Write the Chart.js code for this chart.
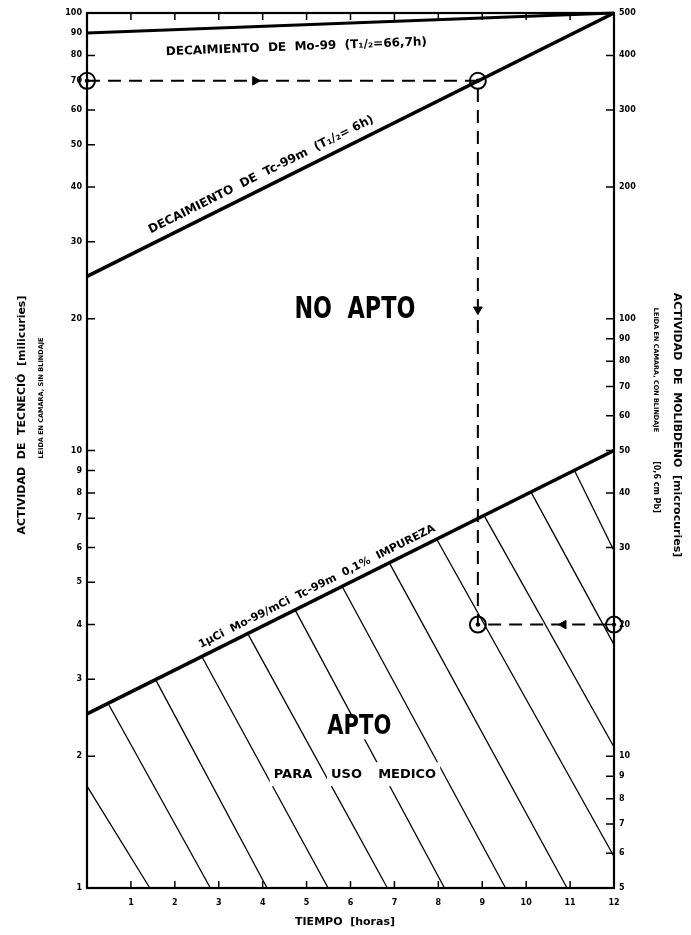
<!DOCTYPE html>
<html>
<head>
<meta charset="utf-8">
<script src="https://cdn.jsdelivr.net/npm/chart.js@4.4.0/dist/chart.umd.min.js"></script>
<style>
body { margin: 0; background: #fff; }
canvas { display: block; }
</style>
</head>
<body>
<canvas id="chart" width="691" height="935"></canvas>
<script>
// tiempo en horas, actividad de Tc en mCi (escala izquierda)
const hours = [0, 12];
const moDecay = [90, 100];
const tcDecay = [25, 100];
const impurity = [2.5, 10];

// recorrido del ejemplo (lineas de trazos)
const guideX = [0, 8.9, 8.9, 12];
const guideY = [70, 70, 4, 4];
const arrowX = [3.83, 8.9, 10.85];
const arrowY = [70, 21, 4];

// rayado de la zona APTO (extremos)
const hatchTopX = [0, 0.5, 1.58, 2.63, 3.67, 4.75, 5.82, 6.9, 7.97, 9.05, 10.12, 11.1];
const hatchTopY = [1.71, 2.62, 2.97, 3.36, 3.8, 4.3, 4.87, 5.5, 6.25, 7.08, 8.0, 9.0];
const hatchBotX = [1.43, 2.81, 4.1, 5.49, 6.84, 8.14, 9.53, 10.93, 12, 12, 12, 12];
const hatchBotY = [1, 1, 1, 1, 1, 1, 1, 1, 1.18, 2.1, 3.6, 5.9];

const leftTicks = [1, 2, 3, 4, 5, 6, 7, 8, 9, 10, 20, 30, 40, 50, 60, 70, 80, 90, 100];
const rightTicks = [5, 6, 7, 8, 9, 10, 20, 30, 40, 50, 60, 70, 80, 90, 100, 200, 300, 400, 500];
const xTicks = [1, 2, 3, 4, 5, 6, 7, 8, 9, 10, 11, 12];

const FONT = "'DejaVu Sans', 'Liberation Sans', sans-serif";

const pts = (xs, ys) => xs.map((x, i) => ({x: x, y: ys[i]}));

const datasets = [];

datasets.push({data: pts(hours, moDecay), showLine: true, borderColor: '#000', borderWidth: 3, pointRadius: 0, clip: false});
datasets.push({data: pts(hours, tcDecay), showLine: true, borderColor: '#000', borderWidth: 3.5, pointRadius: 0, clip: false});
datasets.push({data: pts(hours, impurity), showLine: true, borderColor: '#000', borderWidth: 3.5, pointRadius: 0, clip: false});
datasets.push({data: pts(guideX, guideY), showLine: true, borderColor: '#000', borderWidth: 2, borderDash: [13, 8], pointRadius: 0, clip: false});
// circulos
datasets.push({data: pts(guideX, guideY), showLine: false, pointRadius: 8, pointBorderWidth: 2,
    pointBorderColor: '#000', pointBackgroundColor: 'rgba(0,0,0,0)', clip: false});
datasets.push({data: pts(guideX, guideY), showLine: false, pointRadius: 2.2, pointBorderWidth: 0,
    pointBackgroundColor: '#000', clip: false});
// flechas
datasets.push({data: pts(arrowX, arrowY), showLine: false, pointStyle: 'triangle', pointRadius: 5,
    pointRotation: [90, 180, 270], pointBackgroundColor: '#000', pointBorderColor: '#000', clip: false});

for (let i = 0; i < hatchTopX.length; i++) {
    datasets.push({
        data: [{x: hatchTopX[i], y: hatchTopY[i]}, {x: hatchBotX[i], y: hatchBotY[i]}],
        showLine: true, borderColor: '#000', borderWidth: 1.3, pointRadius: 0, clip: false
    });
}

function squeezed(ctx, text, x, y, font, sx) {
    ctx.save();
    ctx.font = font;
    ctx.translate(x, y);
    ctx.scale(sx, 1);
    ctx.fillText(text, 0, 0);
    ctx.restore();
}

function boxedWord(ctx, text, x, y, font, sx) {
    ctx.save();
    ctx.font = font;
    const w = ctx.measureText(text).width * sx;
    ctx.fillStyle = '#fff';
    ctx.fillRect(x - w / 2 - 4, y - 12, w + 8, 24);
    ctx.restore();
    squeezed(ctx, text, x, y, font, sx);
}

const decor = {
    id: 'decor',
    afterDatasetsDraw(chart) {
        const ctx = chart.ctx;
        const a = chart.chartArea;
        const sx = chart.scales.x, yl = chart.scales.y, yr = chart.scales.y2;
        ctx.save();
        ctx.strokeStyle = '#000';
        ctx.fillStyle = '#000';

        // ticks hacia adentro
        ctx.lineWidth = 1.5;
        ctx.beginPath();
        leftTicks.forEach(v => {
            const py = yl.getPixelForValue(v);
            ctx.moveTo(a.left, py); ctx.lineTo(a.left + 8, py);
        });
        rightTicks.forEach(v => {
            const py = yr.getPixelForValue(v);
            ctx.moveTo(a.right, py); ctx.lineTo(a.right - 8, py);
        });
        xTicks.forEach(v => {
            const px = sx.getPixelForValue(v);
            ctx.moveTo(px, a.bottom); ctx.lineTo(px, a.bottom - 7);
            ctx.moveTo(px, a.top); ctx.lineTo(px, a.top + 7);
        });
        ctx.stroke();

        // marco
        ctx.lineWidth = 2.2;
        ctx.strokeRect(a.left, a.top, a.right - a.left, a.bottom - a.top);

        ctx.textAlign = 'center';
        ctx.textBaseline = 'middle';

        // etiquetas sobre las rectas
        const onLine = function (ys, at, text, off, size, sxf) {
            const x0 = sx.getPixelForValue(hours[0]), y0 = yl.getPixelForValue(ys[0]);
            const x1 = sx.getPixelForValue(hours[1]), y1 = yl.getPixelForValue(ys[1]);
            const t = (at - hours[0]) / (hours[1] - hours[0]);
            ctx.save();
            ctx.translate(x0 + t * (x1 - x0), y0 + t * (y1 - y0));
            ctx.rotate(Math.atan2(y1 - y0, x1 - x0));
            ctx.font = 'bold ' + size + 'px ' + FONT;
            ctx.scale(sxf, 1);
            ctx.fillText(text, 0, off);
            ctx.restore();
        };
        onLine(moDecay, 4.75, 'DECAIMIENTO  DE  Mo-99  (T\u2081/\u2082=66,7h)', 22, 12, 1.0);
        onLine(tcDecay, 4.1, 'DECAIMIENTO  DE  Tc-99m  (T\u2081/\u2082= 6h)', -13, 12, 1.0);
        onLine(impurity, 5.35, '1\u03bcCi  Mo-99/mCi  Tc-99m  0,1%  IMPUREZA', -11, 11, 1.0);

        // zonas
        squeezed(ctx, 'NO  APTO', sx.getPixelForValue(6.1), yl.getPixelForValue(20.9), 'bold 31px ' + FONT, 0.72);
        boxedWord(ctx, 'APTO', sx.getPixelForValue(6.2), yl.getPixelForValue(2.33), 'bold 27px ' + FONT, 0.78);
        boxedWord(ctx, 'PARA', sx.getPixelForValue(4.69), yl.getPixelForValue(1.82), 'bold 13px ' + FONT, 1.0);
        boxedWord(ctx, 'USO', sx.getPixelForValue(5.91), yl.getPixelForValue(1.82), 'bold 13px ' + FONT, 1.0);
        boxedWord(ctx, 'MEDICO', sx.getPixelForValue(7.29), yl.getPixelForValue(1.82), 'bold 13px ' + FONT, 1.0);

        // titulos de ejes
        ctx.save();
        ctx.translate(22, 415);
        ctx.rotate(-Math.PI / 2);
        ctx.font = 'bold 11px ' + FONT;
        ctx.fillText('ACTIVIDAD  DE  TECNECI\u00d3  [milicuries]', 0, 0);
        ctx.font = 'bold 6.5px ' + FONT;
        ctx.fillText('LEIDA EN CAMARA, SIN BLINDAJE', 17, 19);
        ctx.restore();

        ctx.save();
        ctx.translate(677, 425);
        ctx.rotate(Math.PI / 2);
        ctx.font = 'bold 11px ' + FONT;
        ctx.fillText('ACTIVIDAD  DE  MOLIBDENO  [microcuries]', 0, 0);
        ctx.font = 'bold 6.5px ' + FONT;
        ctx.fillText('LEIDA EN CAMARA, CON BLINDAJE', -55, 21);
        ctx.font = 'bold 8px ' + FONT;
        ctx.fillText('[0,6 cm Pb]', 62, 21);
        ctx.restore();

        ctx.font = 'bold 11px ' + FONT;
        ctx.fillText('TIEMPO  [horas]', 345, 922);

        ctx.restore();
    }
};

const tickFont = {family: FONT, size: 8, weight: 'bold'};

new Chart(document.getElementById('chart'), {
    type: 'scatter',
    data: {datasets: datasets},
    options: {
        responsive: false,
        animation: false,
        layout: {padding: {top: 13, left: 0, right: 0, bottom: 0}},
        plugins: {legend: {display: false}, tooltip: {enabled: false}},
        scales: {
            x: {
                type: 'linear', position: 'bottom', min: 0, max: 12,
                afterBuildTicks: s => { s.ticks = xTicks.map(v => ({value: v})); },
                afterFit: s => { s.height = 47; },
                ticks: {color: '#000', font: tickFont, padding: 10},
                grid: {display: false, drawTicks: false},
                border: {display: false}
            },
            y: {
                type: 'logarithmic', position: 'left', min: 1, max: 100,
                afterBuildTicks: s => { s.ticks = leftTicks.map(v => ({value: v})); },
                afterFit: s => { s.width = 87; },
                ticks: {color: '#000', font: tickFont, padding: 5, callback: v => String(v)},
                grid: {display: false, drawTicks: false},
                border: {display: false}
            },
            y2: {
                type: 'logarithmic', position: 'right', min: 5, max: 500,
                afterBuildTicks: s => { s.ticks = rightTicks.map(v => ({value: v})); },
                afterFit: s => { s.width = 77; },
                ticks: {color: '#000', font: tickFont, padding: 5, callback: v => String(v)},
                grid: {display: false, drawTicks: false},
                border: {display: false}
            }
        }
    },
    plugins: [decor]
});
</script>
</body>
</html>
